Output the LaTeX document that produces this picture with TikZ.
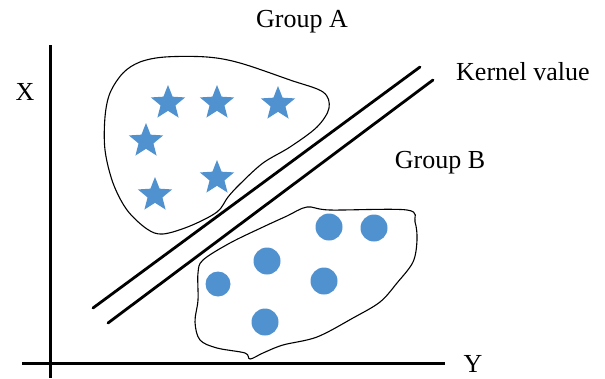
\documentclass[tikz,border=0pt]{standalone}
\usepackage{fontspec}
\setmainfont{Liberation Serif}
\usetikzlibrary{shapes.geometric}
\definecolor{ptblue}{RGB}{80,145,208}
\tikzset{
  lbl/.style={font=\fontsize{26}{29}\selectfont, inner sep=0pt},
  axisline/.style={line width=3pt},
  kernline/.style={line width=2.8pt, line cap=round},
  blob/.style={line width=1.1pt},
  starpt/.style={star, star points=5, star point ratio=2.3, fill=ptblue, minimum size=36pt, inner sep=0pt, draw=none},
  dotpt/.style={circle, fill=ptblue, minimum size=27pt, inner sep=0pt, draw=none}
}
\begin{document}
\begin{tikzpicture}[x=1pt,y=-1pt]
\useasboundingbox (0,0) rectangle (605,378);
% axes
\coordinate (ytop) at (50,45);
\coordinate (ybot) at (50,378);
\coordinate (xl) at (22,363);
\coordinate (xr) at (445,363);
\draw[axisline] (ytop) -- (ybot);
\draw[axisline] (xl) -- (xr);
\node[lbl] (lx) at (25,92) {X};
\node[lbl] (ly) at (473,364) {Y};
% labels
\node[lbl] (ga) at (302,22) {Group A};
\node[lbl] (gb) at (440,163) {Group B};
\node[lbl, anchor=west] (kv) at (456,72) {Kernel value};
% kernel lines
\coordinate (k1a) at (93,308);
\coordinate (k1b) at (420,67);
\coordinate (k2a) at (108,323);
\coordinate (k2b) at (433,80);
\draw[kernline] (k1a) -- (k1b);
\draw[kernline] (k2a) -- (k2b);
% blob A
\draw[blob] plot[smooth cycle, tension=0.55] coordinates {
  (165,57) (140,62) (123,73) (110,93) (105,117) (105,150) (113,183) (127,210)
  (147,229) (163,234) (190,226) (217,212) (228,197) (240,184) (263,163)
  (290,147) (317,127) (329,108) (323,92) (290,80) (240,63) (207,57)};
% blob B
\draw[blob] plot[smooth cycle, tension=0.55] coordinates {
  (307,207) (330,210) (407,210) (415,222) (417,240) (413,262) (397,283)
  (380,302) (353,318) (317,337) (283,345) (263,353) (250,359) (245,353)
  (217,348) (200,340) (195,322) (198,300) (198,273) (203,260) (230,243)
  (263,227) (287,216)};
% stars
\node[starpt] (s1) at (168,103) {};
\node[starpt] (s2) at (217,103) {};
\node[starpt] (s3) at (278,104) {};
\node[starpt] (s4) at (146,141) {};
\node[starpt] (s5) at (217,178) {};
\node[starpt] (s6) at (155,195) {};
% dots
\node[dotpt] (c1) at (329,227) {};
\node[dotpt] (c2) at (374,228) {};
\node[dotpt] (c3) at (267,261) {};
\node[dotpt, minimum size=25pt] (c4) at (218,284) {};
\node[dotpt] (c5) at (324,281) {};
\node[dotpt] (c6) at (265,322) {};
\end{tikzpicture}
\end{document}
